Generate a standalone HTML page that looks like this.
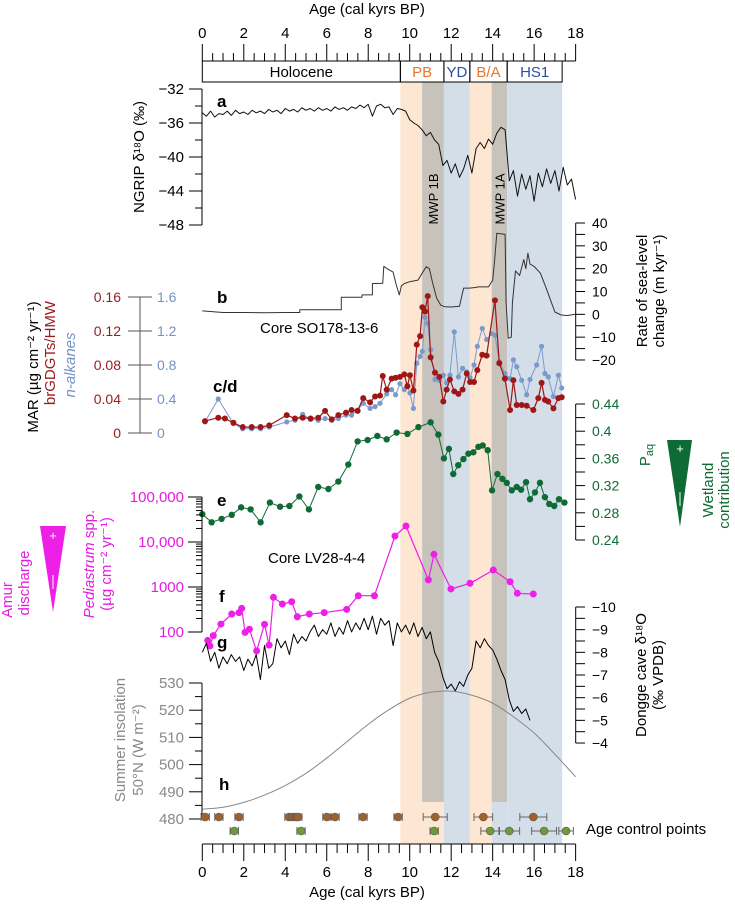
<!DOCTYPE html>
<html><head><meta charset="utf-8"><style>
html,body{margin:0;padding:0;background:#fff;}
svg{display:block;font-family:"Liberation Sans",Arial,sans-serif;}
</style></head><body>
<svg id="chart" width="735" height="904" viewBox="0 0 735 904" xmlns="http://www.w3.org/2000/svg"></svg>
<script>
// ---- data ----
const ngripAges = [0,0.2,0.4,0.6,0.8,1,1.2,1.4,1.6,1.8,2,2.2,2.4,2.6,2.8,3,3.2,3.4,3.6,3.8,4,4.2,4.4,4.6,4.8,5,5.2,5.4,5.6,5.8,6,6.2,6.4,6.6,6.8,7,7.2,7.4,7.6,7.8,8,8.2,8.4,8.6,8.8,9,9.2,9.4,9.6,9.8,10,10.2,10.4,10.6,10.8,11,11.2,11.4,11.6,11.8,12,12.2,12.4,12.6,12.8,13,13.2,13.4,13.6,13.8,14,14.2,14.4,14.6,14.8,15,15.2,15.4,15.6,15.8,16,16.2,16.4,16.6,16.8,17,17.2,17.4,17.6,17.8,18];
const ngripVals = [-34.8,-35.2,-34.6,-35.3,-34.9,-35.0,-34.6,-35.1,-34.5,-34.9,-34.7,-35.0,-34.5,-34.8,-34.6,-34.9,-34.4,-34.7,-34.5,-34.9,-34.3,-34.6,-34.4,-34.7,-34.2,-34.5,-34.3,-34.6,-34.2,-34.5,-34.3,-34.6,-34.1,-34.4,-34.2,-34.5,-34.1,-34.3,-33.9,-34.2,-33.8,-35.2,-34.0,-33.8,-34.2,-34.1,-35.0,-34.3,-34.4,-34.6,-35.6,-36.0,-36.3,-36.8,-37.5,-37.1,-38.0,-38.5,-41.0,-40.4,-41.9,-40.8,-42.4,-41.4,-39.8,-41.9,-39.0,-38.3,-39.0,-37.9,-38.5,-37.2,-36.5,-36.8,-42.8,-41.6,-44.6,-42.0,-43.8,-42.2,-45.2,-41.9,-43.5,-41.4,-43.1,-41.6,-44.0,-41.2,-43.3,-42.6,-45.0];
const seaAges = [0,1,2,3,4,4.7,4.7,6.7,6.7,7.7,7.7,8.2,8.2,8.7,8.75,9.0,9.2,9.35,9.5,9.6,9.75,10.0,10.4,10.6,10.8,10.95,11.1,11.3,11.5,11.7,12.0,12.4,12.5,12.6,12.9,13.2,13.3,13.8,14.0,14.1,14.2,14.6,14.65,14.75,14.9,14.95,15.1,15.3,15.5,15.6,15.7,15.8,16.0,16.3,16.6,16.8,17.0,17.3,17.6,18.0];
const seaVals = [1.5,0.8,0.8,0.7,0.8,0.8,2,2,7.5,7.5,8.5,8.5,13.5,13.6,21,19.5,18.5,13,8.5,12.5,13.5,14.3,15,18,20.8,20,14,7,4,3.3,3.2,3.5,7.7,11.5,11.5,11.8,12,12,15,24,35.5,35,5,-10.5,-10,5,19,17,24,20,26.8,22,21,18,11,6,1,-0.3,-0.5,0];
const brAges = [0.13,0.77,1.09,1.5,1.95,2.38,2.81,3.23,4.07,4.47,4.84,5.22,5.59,5.92,6.24,6.56,6.93,7.2,7.49,7.76,8.09,8.33,8.57,8.7,8.89,9.13,9.32,9.53,9.74,9.89,10.01,10.18,10.34,10.5,10.61,10.74,10.87,11.01,11.22,11.43,11.62,11.78,11.94,12.15,12.35,12.55,12.75,12.91,13.1,13.26,13.5,13.71,14.11,14.32,14.59,14.84,15.0,15.16,15.4,15.64,15.96,16.2,16.36,16.52,16.68,16.93,17.17,17.33];
const brVals = [0.014,0.018,0.017,0.012,0.007,0.007,0.007,0.009,0.021,0.017,0.018,0.017,0.018,0.026,0.016,0.021,0.024,0.027,0.026,0.041,0.036,0.043,0.044,0.067,0.051,0.064,0.065,0.066,0.069,0.055,0.068,0.050,0.104,0.114,0.148,0.143,0.161,0.089,0.071,0.066,0.037,0.051,0.063,0.049,0.046,0.051,0.070,0.060,0.060,0.074,0.092,0.091,0.156,0.082,0.064,0.027,0.062,0.033,0.033,0.032,0.027,0.041,0.059,0.039,0.037,0.029,0.041,0.042];
const alkAges = [0.13,0.77,1.5,1.95,2.38,2.81,3.23,4.07,4.47,4.84,5.22,5.59,5.92,6.24,6.56,6.93,7.2,7.49,7.76,8.09,8.33,8.57,8.89,9.13,9.32,9.53,9.74,9.89,10.01,10.18,10.34,10.5,10.61,10.74,10.87,11.01,11.22,11.43,11.62,11.78,11.94,12.15,12.35,12.55,12.75,12.91,13.1,13.26,13.5,13.71,13.95,14.11,14.32,14.59,14.84,15.0,15.16,15.4,15.64,15.8,16.12,16.36,16.52,16.68,16.93,17.17,17.33];
const alkVals = [0.13,0.40,0.11,0.05,0.05,0.05,0.07,0.13,0.15,0.22,0.16,0.15,0.17,0.15,0.17,0.21,0.21,0.27,0.35,0.29,0.31,0.35,0.46,0.51,0.45,0.58,0.51,0.56,0.47,0.29,0.82,0.90,0.96,1.36,1.29,0.98,0.63,0.62,0.68,0.59,0.68,1.19,0.66,0.76,0.72,0.65,0.80,1.02,1.23,1.10,1.17,1.15,0.84,0.70,0.64,0.86,0.78,0.62,0.45,0.63,0.80,1.02,0.70,0.66,0.43,0.68,0.53];
const paqAges = [0,0.45,0.93,1.42,1.87,2.33,2.81,3.26,3.75,4.2,4.68,5.14,5.59,6.08,6.56,7.04,7.49,7.97,8.44,8.89,9.37,9.89,10.42,11.01,11.38,11.65,11.89,12.1,12.34,12.59,12.83,13.07,13.31,13.52,13.76,13.97,14.23,14.47,14.68,14.92,15.16,15.37,15.61,15.8,16.04,16.28,16.52,16.73,16.97,17.2,17.46];
const paqVals = [0.278,0.266,0.271,0.277,0.288,0.285,0.266,0.295,0.289,0.290,0.304,0.285,0.318,0.315,0.326,0.351,0.385,0.387,0.393,0.388,0.398,0.396,0.406,0.413,0.395,0.360,0.374,0.337,0.350,0.359,0.367,0.369,0.377,0.379,0.372,0.313,0.337,0.330,0.324,0.313,0.318,0.314,0.325,0.300,0.310,0.324,0.303,0.293,0.290,0.300,0.295];
const pedAges = [0.26,0.37,0.53,0.9,1.42,1.77,1.9,2.06,2.27,2.62,3.0,3.22,3.43,3.86,4.31,4.58,5.16,5.88,6.96,7.52,8.3,9.29,9.82,10.9,11.17,11.99,12.91,14.03,14.84,15.19,15.96];
const pedVals = [65,49,83,150,251,269,336,98,115,38,148,51,590,419,470,218,251,269,318,640,640,13600,22700,1440,5330,905,1210,2380,1310,724,697];
const donggeAges = [0,0.2,0.4,0.6,0.8,1,1.2,1.4,1.6,1.8,2,2.2,2.4,2.6,2.8,3,3.2,3.4,3.6,3.8,4,4.2,4.4,4.6,4.8,5,5.2,5.4,5.6,5.8,6,6.2,6.4,6.6,6.8,7,7.2,7.4,7.6,7.8,8,8.2,8.4,8.6,8.8,9,9.2,9.4,9.6,9.8,10,10.2,10.4,10.6,10.8,11,11.2,11.4,11.6,11.8,12,12.2,12.4,12.6,12.8,13,13.2,13.4,13.6,13.8,14,14.2,14.4,14.6,14.8,15,15.2,15.4,15.6,15.8];
const donggeVals = [-8.0,-8.4,-7.6,-8.0,-7.3,-7.8,-7.5,-7.9,-7.6,-7.8,-7.2,-7.7,-7.4,-7.9,-6.8,-8.3,-7.3,-7.5,-8.6,-8.2,-8.5,-7.9,-8.8,-8.4,-8.7,-8.5,-8.9,-9.2,-8.7,-9.0,-8.8,-9.3,-8.7,-9.1,-8.8,-9.4,-8.9,-9.3,-9.0,-9.5,-9.0,-9.6,-8.8,-9.5,-9.2,-9.4,-8.3,-9.3,-8.9,-9.2,-8.8,-9.3,-8.7,-9.1,-8.6,-8.9,-8.0,-7.6,-6.9,-6.4,-6.6,-6.3,-6.7,-6.5,-7.0,-7.3,-8.5,-8.2,-8.6,-8.3,-8.1,-7.7,-7.2,-6.8,-5.9,-5.4,-5.6,-5.3,-5.5,-5.0];
const insAges = [0,1,2,3,4,5,6,7,8,9,10,11,12,13,14,15,16,17,18];
const insVals = [483.6,484.3,486.1,488.8,492.3,496.8,502.4,508.6,514.8,520.2,524.4,526.6,527,525.5,522.6,517.6,511.6,503.8,495.5];
const ctrlBrownAges = [0.14,0.8,1.77,4.18,4.37,4.52,4.61,6.01,6.4,7.75,9.44,11.23,13.55,15.96];
const ctrlBrownErr = [0.2,0.2,0.2,0.2,0.2,0.2,0.2,0.2,0.2,0.2,0.2,0.58,0.45,0.65];
const ctrlGreenAges = [1.54,4.76,11.18,13.88,14.8,16.48,17.54];
const ctrlGreenErr = [0.2,0.2,0.2,0.45,0.5,0.6,0.35];
const periods = [["Holocene",0,9.55,"#000"],["PB",9.55,11.65,"#e8762b"],["YD",11.65,12.9,"#2a4f9e"],["B/A",12.9,14.7,"#e8762b"],["HS1",14.7,17.35,"#2a4f9e"]];

// ---- scales ----
const X = a => 202.3 + a*20.74;
const yA = v => 89 + (-32 - v)*8.5;
const yB = v => 223 + (40 - v)*2.283;
const yC = v => 433 - v*850;
const yD = v => 433 - v*85;
const yE = v => 404 + (0.44 - v)*680;
const yF = v => 497 + (5 - Math.log10(v))*45;
const yG = v => 607 + (v + 10)*22.67;
const yH = v => 683 + (530 - v)*2.72;

const svg = document.getElementById('chart');
const NS = 'http://www.w3.org/2000/svg';
function mk(tag, attrs, name, parent){
  const el = document.createElementNS(NS, tag);
  for (const k in attrs) el.setAttribute(k, attrs[k]);
  
  
  (parent||svg).appendChild(el);
  return el;
}
function txt(x,y,s,opt,name){
  const o = Object.assign({x:x,y:y,'font-size':14,fill:'#000'},opt||{});
  const t = mk('text',o,name);
  t.textContent = s;
  return t;
}
function rtxt(x,y,s,opt,name){
  const o = Object.assign({x:0,y:0,'font-size':14,fill:'#000','text-anchor':'middle',transform:'translate('+x+','+y+') rotate(-90)'},opt||{});
  const t = mk('text',o,name);
  t.textContent = s;
  return t;
}
function line(x1,y1,x2,y2,stroke,w,name){ return mk('line',{x1:x1,y1:y1,x2:x2,y2:y2,stroke:stroke||'#000','stroke-width':w||1},name); }
function poly(ages,vals,ys,stroke,w,name){
  const pts = ages.map((a,i)=>X(a).toFixed(1)+','+ys(vals[i]).toFixed(1)).join(' ');
  return mk('polyline',{points:pts,fill:'none',stroke:stroke,'stroke-width':w,'stroke-linejoin':'round'},name);
}
function dots(ages,vals,ys,fill,r,name){
  ages.forEach((a,i)=>{ mk('circle',{cx:X(a),cy:ys(vals[i]),r:r,fill:fill},name); });
}

// ---- shading ----
const shades = [[9.55,10.6,'#fde7d2'],[10.6,11.65,'#c8c2bd'],[11.65,12.9,'#d4dee9'],[12.9,13.95,'#fde7d2'],[13.95,14.7,'#c8c2bd'],[14.7,17.35,'#d4dee9']];
shades.forEach(s=>{
  const gray = s[2]==='#c8c2bd';
  mk('rect',{x:X(s[0]),y:82,width:X(s[1])-X(s[0]),height:(gray?802:844)-82,fill:s[2]},'period-shading');
  if(gray){ mk('rect',{x:X(s[0]),y:802,width:X(s[1])-X(s[0]),height:42,fill:s[0]<12?'#fde7d2':'#d4dee9'},'period-shading'); }
});
rtxt(X(11.12)+5,199,'MWP 1B',{'font-size':13},'mwp-1b-label');
rtxt(X(14.32)+5,199,'MWP 1A',{'font-size':13},'mwp-1a-label');

// ---- top & bottom axes ----
line(X(0),61,X(18),61,'#000',1,'top-axis-line');
line(X(0),844,X(18),844,'#000',1,'bottom-axis-line');
for(let a=0;a<=18.001;a+=0.5){
  const maj = Math.abs(a%2)<0.01;
  line(X(a),61,X(a),maj?44:53,'#000',1,'top-tick');
  line(X(a),844,X(a),maj?861:853,'#000',1,'bottom-tick');
  if(maj){
    txt(X(a),38,String(a),{'text-anchor':'middle','font-size':15},'top-tick-label');
    txt(X(a),877,String(a),{'text-anchor':'middle','font-size':15},'bottom-tick-label');
  }
}
txt(367,14,'Age (cal kyrs BP)',{'text-anchor':'middle','font-size':15},'top-axis-title');
txt(367,897,'Age (cal kyrs BP)',{'text-anchor':'middle','font-size':15},'bottom-axis-title');

// period box
periods.forEach(p=>{
  mk('rect',{x:X(p[1]),y:61,width:X(p[2])-X(p[1]),height:21,fill:'none',stroke:'#000','stroke-width':1},'period-box');
  txt((X(p[1])+X(p[2]))/2,77,p[0],{'text-anchor':'middle','font-size':15,fill:p[3]},'period-label');
});

// ---- panel a ----
line(202,89,202,225,'#000',1,'ngrip-axis');
for(let v=-32;v>=-48;v-=2){ line(202,yA(v),v%4===0?189:195,yA(v),'#000',1,'ngrip-tick'); if(v%4===0) txt(184,yA(v)+5,String(v).replace('-','\u2212'),{'text-anchor':'end','font-size':15},'ngrip-tick-label'); }
rtxt(144,157,'NGRIP \u03b4\u00b9\u2078O (\u2030)',{'font-size':15},'ngrip-axis-title');
poly(ngripAges,ngripVals,yA,'#111',1,'ngrip-line');
txt(217,107,'a',{'font-size':17,'font-weight':'bold'},'panel-label-a');

// ---- panel b ----
line(575.7,223,575.7,360,'#000',1,'sea-level-axis');
for(let v=40;v>=-20;v-=5){ line(575.7,yB(v),585,yB(v),'#000',1,'sea-level-tick'); if(v%10===0) txt(592,yB(v)+5,String(v).replace('-','\u2212'),{},'sea-level-tick-label'); }
rtxt(647,291,'Rate of sea-level',{'font-size':15},'sea-level-axis-title');
rtxt(664,291,'change (m kyr\u207b\u00b9)',{'font-size':15},'sea-level-axis-title');
poly(seaAges,seaVals,yB,'#333',1,'sea-level-line');
txt(217,303,'b',{'font-size':17,'font-weight':'bold'},'panel-label-b');

// ---- panel c/d ----
line(140,297,140,433,'#555',1,'mar-axis');
for(let i=0;i<=4;i++){ const y=433-i*34; line(128,y,152,y,'#555',1,'mar-tick');
  txt(121,y+5,i===0?'0':(i*0.04).toFixed(2),{'text-anchor':'end',fill:'#9b1b1b'},'brgdgt-tick-label');
  txt(157,y+5,i===0?'0':(i*0.4).toFixed(1),{fill:'#7391c6'},'alkane-tick-label'); }
rtxt(38,367,'MAR (\u00b5g cm\u207b\u00b2 yr\u207b\u00b9)',{'font-size':15},'mar-axis-title');
rtxt(55,353,'brGDGTs/HMW',{'font-size':15,fill:'#9b1b1b'},'brgdgt-axis-title');
rtxt(75,365,'n-alkanes',{'font-size':15,fill:'#7391c6','font-style':'italic'},'alkane-axis-title');
poly(alkAges,alkVals,yD,'#7b9acb',1,'alkane-line');
dots(alkAges,alkVals,yD,'#7b9acb',2.6,'alkane-point');
poly(brAges,brVals,yC,'#9e1616',1.2,'brgdgt-line');
dots(brAges,brVals,yC,'#9e1616',3,'brgdgt-point');
txt(260,333,'Core SO178-13-6',{'font-size':15},'core-so178-label');
txt(213,392,'c/d',{'font-size':17,'font-weight':'bold'},'panel-label-cd');

// ---- panel e ----
line(575.7,404,575.7,540,'#000',1,'paq-axis');
for(let i=0;i<=10;i++){ const v=0.44-i*0.02; line(575.7,yE(v),585,yE(v),'#000',1,'paq-tick');
  if(i%2===0) txt(592,yE(v)+5,(Math.round(v*100)/100).toString(),{fill:'#0e6b35'},'paq-tick-label'); }
const pq = rtxt(650,455,'P',{'font-size':15,fill:'#0e6b35'},'paq-axis-title');
const sub = document.createElementNS(NS,'tspan'); sub.setAttribute('font-size','11'); sub.setAttribute('dy','3'); sub.textContent='aq'; pq.appendChild(sub);
mk('polygon',{points:'667,440 692,440 680,527',fill:'#0e6b35'},'wetland-triangle');
txt(680,453,'+',{'text-anchor':'middle','font-size':13,fill:'#fff'},'wetland-plus');
line(680,492,680,506,'#fff',1,'wetland-minus');
rtxt(713,490,'Wetland',{'font-size':15,fill:'#0e6b35'},'wetland-axis-title');
rtxt(729,490,'contribution',{'font-size':15,fill:'#0e6b35'},'wetland-axis-title');
poly(paqAges,paqVals,yE,'#0e6b35',1,'paq-line');
dots(paqAges,paqVals,yE,'#0e6b35',3.2,'paq-point');
txt(217,506,'e',{'font-size':17,'font-weight':'bold'},'panel-label-e');

// ---- panel f ----
line(202,497,202,632,'#000',1,'pediastrum-axis');
for(let d=2;d<=5;d++){
  line(188,yF(Math.pow(10,d)),202,yF(Math.pow(10,d)),'#000',1,'pediastrum-tick');
  if(d<5) for(let m=2;m<=9;m++) line(196,yF(m*Math.pow(10,d)),202,yF(m*Math.pow(10,d)),'#000',1,'pediastrum-minor-tick');
}
[['100,000',5],['10,000',4],['1000',3],['100',2]].forEach(l=>txt(184,yF(Math.pow(10,l[1]))+5,l[0],{'text-anchor':'end',fill:'#e21ee0','font-size':15},'pediastrum-tick-label'));
mk('polygon',{points:'40,526 66,526 53,612',fill:'#ee1fe6'},'amur-triangle');
txt(53,540,'+',{'text-anchor':'middle','font-size':13,fill:'#fff'},'amur-plus');
line(53,575,53,589,'#fff',1,'amur-minus');
rtxt(12,600,'Amur',{'font-size':15,fill:'#e21ee0'},'amur-axis-title');
rtxt(29,583,'discharge',{'font-size':15,fill:'#e21ee0'},'amur-axis-title');
const ped = rtxt(94,564,'',{'font-size':15,fill:'#e21ee0'},'pediastrum-axis-title');
const t1=document.createElementNS(NS,'tspan'); t1.setAttribute('font-style','italic'); t1.textContent='Pediastrum'; ped.appendChild(t1);
const t2=document.createElementNS(NS,'tspan'); t2.textContent=' spp.'; ped.appendChild(t2);
rtxt(111,564,'(\u00b5g cm\u207b\u00b2 yr\u207b\u00b9)',{'font-size':15,fill:'#e21ee0'},'pediastrum-axis-title');
poly(pedAges,pedVals,yF,'#ee1fe6',1.2,'pediastrum-line');
dots(pedAges,pedVals,yF,'#ee1fe6',3.5,'pediastrum-point');
txt(268,563,'Core LV28-4-4',{'font-size':15},'core-lv28-label');
txt(219,602,'f',{'font-size':17,'font-weight':'bold'},'panel-label-f');

// ---- panel g ----
line(575.7,607,575.7,743,'#000',1,'dongge-axis');
for(let v=-10;v<=-4.001+0.5;v+=0.5){ line(575.7,yG(v),585,yG(v),'#000',1,'dongge-tick'); if(Number.isInteger(v)) txt(592,yG(v)+5,String(v).replace('-','\u2212'),{},'dongge-tick-label'); }
rtxt(646,675,'Dongge cave \u03b4\u00b9\u2078O',{'font-size':15},'dongge-axis-title');
rtxt(663,675,'(\u2030 VPDB)',{'font-size':15},'dongge-axis-title');
poly(donggeAges,donggeVals,yG,'#000',1,'dongge-line');
txt(217,648,'g',{'font-size':17,'font-weight':'bold'},'panel-label-g');

// ---- panel h ----
line(202,683,202,819,'#000',1,'insolation-axis');
for(let v=530;v>=480;v-=5){ line(202,yH(v),v%10===0?189:195,yH(v),'#000',1,'insolation-tick'); if(v%10===0) txt(184,yH(v)+5,String(v),{'text-anchor':'end',fill:'#888','font-size':15},'insolation-tick-label'); }
rtxt(125,740,'Summer insolation',{'font-size':15,fill:'#888'},'insolation-axis-title');
rtxt(143,750,'50\u00b0N (W m\u207b\u00b2)',{'font-size':15,fill:'#888'},'insolation-axis-title');
(function(){
  const p = insAges.map((a,i)=>[X(a),yH(insVals[i])]);
  let d='M'+p[0][0]+','+p[0][1];
  for(let i=0;i<p.length-1;i++){
    const p0=p[Math.max(0,i-1)],p1=p[i],p2=p[i+1],p3=p[Math.min(p.length-1,i+2)];
    d+=' C'+(p1[0]+(p2[0]-p0[0])/6)+','+(p1[1]+(p2[1]-p0[1])/6)+' '+(p2[0]-(p3[0]-p1[0])/6)+','+(p2[1]-(p3[1]-p1[1])/6)+' '+p2[0]+','+p2[1];
  }
  mk('path',{d:d,fill:'none',stroke:'#888','stroke-width':1},'insolation-line');
})();
txt(219,790,'h',{'font-size':17,'font-weight':'bold'},'panel-label-h');

// age control points
function ctrl(ages,errs,y,fill,name){
  ages.forEach((a,i)=>{
    line(X(a-errs[i]),y,X(a+errs[i]),y,'#666',1,name+'-errorbar');
    line(X(a-errs[i]),y-4,X(a-errs[i]),y+4,'#666',1,name+'-errorcap');
    line(X(a+errs[i]),y-4,X(a+errs[i]),y+4,'#666',1,name+'-errorcap');
    mk('circle',{cx:X(a),cy:y,r:4,fill:fill,stroke:'#555','stroke-width':0.6},name);
  });
}
ctrl(ctrlBrownAges,ctrlBrownErr,817,'#a0622d','age-control-point-brown');
ctrl(ctrlGreenAges,ctrlGreenErr,831,'#6e9a3c','age-control-point-green');
txt(586,834,'Age control points',{'font-size':15},'age-control-label');
</script>
</body></html>
